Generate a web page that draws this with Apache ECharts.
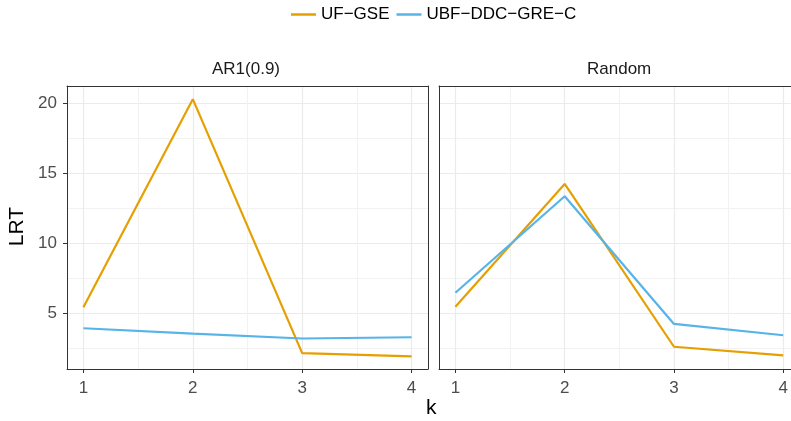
<!DOCTYPE html>
<html>
<head>
<meta charset="utf-8">
<script src="https://cdn.jsdelivr.net/npm/echarts@6/dist/echarts.min.js"></script>
<style>
  html, body { margin: 0; padding: 0; background: #fff; }
  #chart { width: 791px; height: 421px; }
</style>
</head>
<body>
<div id="chart"></div>
<script>
const kValues = [1, 2, 3, 4];
const panelNames = ['AR1(0.9)', 'Random'];
const seriesNames = ['UF\u2212GSE', 'UBF\u2212DDC\u2212GRE\u2212C'];

const ar1UfGse = [5.43, 20.3, 2.15, 1.92];
const ar1Ubf = [3.93, 3.55, 3.2, 3.29];
const randomUfGse = [5.47, 14.24, 2.61, 2.0];
const randomUbf = [6.47, 13.36, 4.24, 3.43];

const xMajor = [1, 2, 3, 4];
const xMinor = [1.5, 2.5, 3.5];
const yMajor = [5, 10, 15, 20];
const yMinor = [2.5, 7.5, 12.5, 17.5];

const colors = ['#E69F00', '#56B4E9'];
const font = '"Liberation Sans", Arial, sans-serif';
const border = { show: true, lineStyle: { color: '#333333', width: 1 } };

const chart = echarts.init(document.getElementById('chart'));

// the second panel is cut off by the right edge in the reference,
// so it stops at the canvas edge with a matching x range and no right border
const grids = [
  { left: 67, top: 86, width: 361, height: 283 },
  { left: 439, top: 86, width: 352, height: 283 }
].map(g => ({ ...g, show: true, borderWidth: 0, backgroundColor: '#ffffff', z: 0 }));
const xMax = [4.15, 4.068];

function xAxes(gridIndex) {
  return [
    {
      type: 'value', gridIndex, min: 0.85, max: xMax[gridIndex], position: 'bottom',
      axisLine: border,
      axisTick: { show: true, customValues: xMajor, length: 4, lineStyle: { color: '#333333' } },
      axisLabel: { customValues: xMajor, margin: 11, color: '#4d4d4d', fontSize: 17, fontFamily: font },
      splitLine: { show: true, lineStyle: { color: '#ebebeb', width: 1.2 } }
    },
    {
      type: 'value', gridIndex, min: 0.85, max: xMax[gridIndex], position: 'top',
      axisLine: border,
      axisTick: { show: false, customValues: xMinor },
      axisLabel: { show: false, customValues: xMinor },
      splitLine: { show: true, lineStyle: { color: '#f2f2f2', width: 1 } }
    }
  ];
}

function yAxes(gridIndex) {
  const labelled = gridIndex === 0;
  return [
    {
      type: 'value', gridIndex, min: 1.02, max: 21.24, position: 'left',
      axisLine: border,
      axisTick: { show: labelled, customValues: yMajor, length: 4, lineStyle: { color: '#333333' } },
      axisLabel: { show: labelled, customValues: yMajor, margin: 10, color: '#4d4d4d', fontSize: 17, fontFamily: font },
      splitLine: { show: true, lineStyle: { color: '#ebebeb', width: 1.2 } }
    },
    {
      type: 'value', gridIndex, min: 1.02, max: 21.24, position: 'right',
      axisLine: labelled ? border : { show: false },
      axisTick: { show: false, customValues: yMinor },
      axisLabel: { show: false, customValues: yMinor },
      splitLine: { show: true, lineStyle: { color: '#f2f2f2', width: 1 } }
    }
  ];
}

function lineSeries(name, values, panel, colorIdx) {
  return {
    name,
    type: 'line',
    xAxisIndex: panel * 2,
    yAxisIndex: panel * 2,
    data: kValues.map((k, i) => [k, values[i]]),
    symbol: 'none',
    lineStyle: { color: colors[colorIdx], width: 2.2 },
    itemStyle: { color: colors[colorIdx] },
    z: 3
  };
}

const option = {
  backgroundColor: '#ffffff',
  animation: false,
  legend: {
    left: 291,
    top: 6,
    padding: 0,
    itemWidth: 25,
    itemHeight: 2.5,
    itemGap: 7,
    icon: 'rect',
    data: seriesNames,
    textStyle: { color: '#000000', fontSize: 17, fontFamily: font }
  },
  grid: grids,
  xAxis: [...xAxes(0), ...xAxes(1)],
  yAxis: [...yAxes(0), ...yAxes(1)],
  graphic: [
    { type: 'text', left: 212, top: 61, style: { text: panelNames[0], fill: '#1a1a1a', font: '17px ' + font } },
    { type: 'text', left: 587, top: 61, style: { text: panelNames[1], fill: '#1a1a1a', font: '17px ' + font } },
    { type: 'text', left: 426, top: 398, style: { text: 'k', fill: '#000000', font: '21px ' + font } },
    { type: 'text', left: 7, top: 207, rotation: Math.PI / 2, style: { text: 'LRT', fill: '#000000', font: '21px ' + font } }
  ],
  series: [
    lineSeries(seriesNames[0], ar1UfGse, 0, 0),
    lineSeries(seriesNames[1], ar1Ubf, 0, 1),
    lineSeries(seriesNames[0], randomUfGse, 1, 0),
    lineSeries(seriesNames[1], randomUbf, 1, 1)
  ]
};

chart.setOption(option);
</script>
</body>
</html>
